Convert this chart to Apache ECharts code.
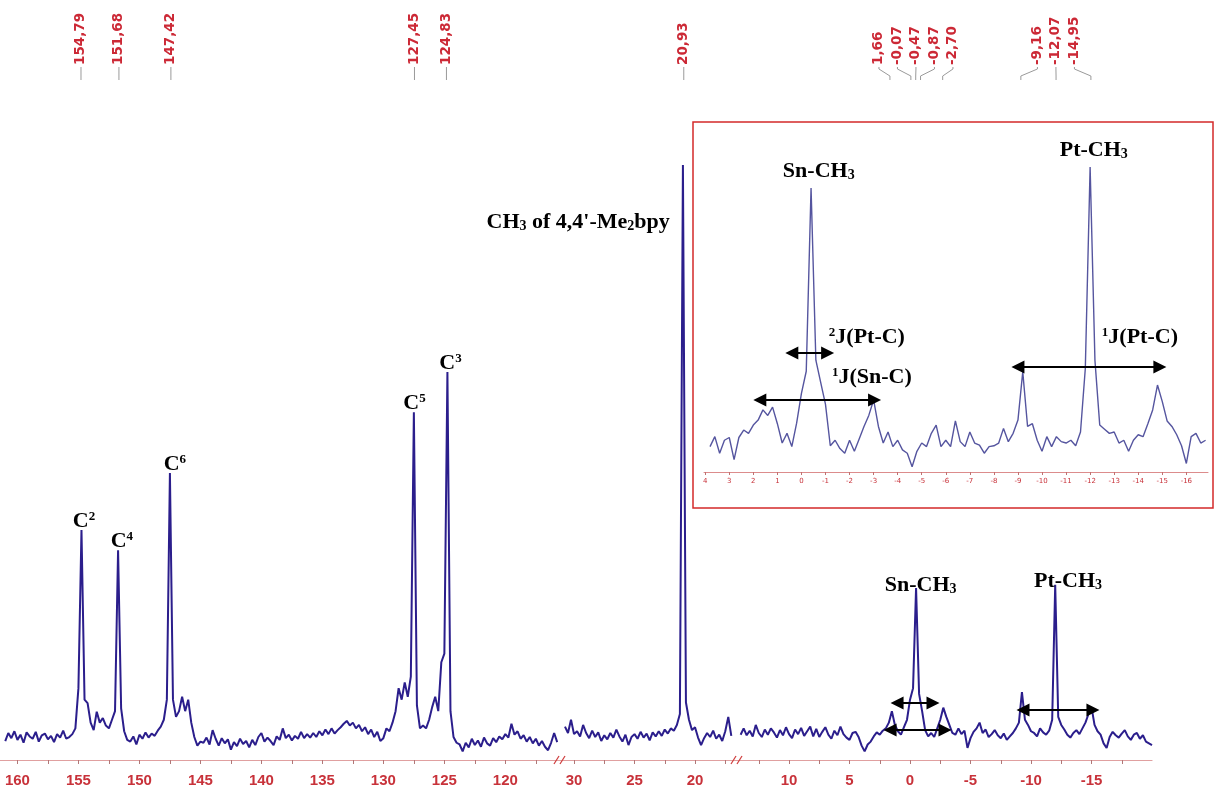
<!DOCTYPE html>
<html><head><meta charset="utf-8">
<script src="https://cdn.jsdelivr.net/npm/echarts@6/dist/echarts.min.js"></script>
<style>html,body{margin:0;padding:0;background:#fff}#c{width:1215px;height:792px}</style>
</head><body><div id="c"></div>
<script>
// ================= DATA =================
// main spectrum, sampled every 0.25 ppm (intensity, arbitrary units; CH3 of bpy = 100)
const mainStep = 0.25;
const seg1Start = 161.0;   // 161 -> 115.75 ppm
const seg1Values = [
 -0.2, 1.2, 0.3, 1.5,   0.0, 0.9, -0.5, 1.3,   0.6, 0.2, 1.4, -0.3,   0.8, 1.1, 0.1, 0.7,
 -0.4, 1.0, 0.4, 1.6,   0.2, 0.5, 1.0, 2.0,    9, 36.5, 7, 6.4,       3, 1.7, 4.9, 3,
 3.8, 2.5, 2, 3.5,      5, 33, 5.5, 1.5,       0, -0.3, 0.6, -0.8,    0.9, 0.2, 1.3, 0.4,
 1.1, 0.7, 1.6, 2.3,    3.5, 7, 46.4, 7,       4, 5, 7.5, 5,          7, 3, 0.5, -1,
 -0.3, -0.5, 0.4, -0.8, 1.7, 0.2, -1.0, 0.3,   -0.6, 0.1, -1.7, -0.4, -1.1, 0.2, -0.7, -0.2,
 -1.3, 0.0, -0.9, 0.5,  1.2, -0.3, 0.4, -0.2,  -0.9, 0.6, 0.0, 2.0,   0.3, 0.9, -0.1, 0.7,
 0.2, 1.4, 0.3, 1.0,    0.4, 1.2, 0.5, 1.5,    0.8, 1.8, 1.0, 2.0,    1.1, 1.7, 2.2, 2.8,
 3.3, 2.5, 3.0, 2.0,    2.6, 1.5, 2.2, 1.0,    1.8, 0.5, 1.4, -0.2,   0.3, 2.0, 1.5, 3.0,
 5.0, 9.0, 7.0, 10.0,   7.5, 11.0, 57.0, 6.0,  2.0, 2.5, 2.0, 3.5,    5.7, 7.5, 5.0, 13.5,
 15.0, 64.0, 5.0, 0.5,  -0.5, -0.8, -2.0, -0.5, -1.3, 0.2, -0.9, -0.1, -1.2, 0.4, -0.6, -1.0,
 0.3, -0.4, 0.6, 0.1,   1.0, 0.4, 2.8, 0.9,    1.5, 0.2, 0.8, -0.3,   0.5, -0.6, 0.2, -1.0,
 -0.2, -1.2, -1.8, -0.5, 1.2, -0.4
];
const seg2Start = 30.75;   // 30.75 -> 17.0 ppm
const seg2Values = [
 2.3, 1.2, 3.5,
 1.0, 1.5, 0.6, 2.6,   1.2, 0.3, 1.6, 0.5,   1.3, -0.2, 0.8, 0.1,   1.2, 0.4, 1.8, 0.6,
 -0.3, 0.9, -0.9, 0.5, 1.0, 0.2, 1.4, 0.4,   1.1, -0.1, 1.3, 0.6,   1.5, 0.7, 1.8, 1.1,
 2.0, 1.6, 2.6, 4.5,   100, 6.5, 3.5, 1.7,   2.2, 0.4, -0.9, 0.3,   1.2, 0.5, 1.6, 0.2,
 0.9, -0.2, 1.5, 4.0,
 0.7
];
const seg3Start = 14.0;    // 14 -> -20 ppm
const seg3Values = [
 0.9, 2.0, 0.8, 1.6,   0.6, 2.6, 1.2, 0.5,   1.8, 0.9, 2.0, 1.3,   0.4, 1.7, 0.8, 2.2,
 1.0, 0.3, 1.8, 1.0,   2.1, 0.7, 1.5, 2.3,   0.6, 1.9, 0.5, 1.4,   2.2, 0.9, 0.2, 1.6,
 0.8, 2.3, 1.0, 0.4,   0.0, 1.2, 1.4, 0.5,   -1.0, -2.0, -0.8, -0.3, 0.6, 1.3, 0.9, 1.6,
 2.0, 3.0, 5.0, 2.6,   1.5, 0.9, 2.2, 3.5,   7.0, 9.0, 26.4, 8.0,   5.0, 1.7, 0.6, 1.2,
 0.5, 2.0, 3.5, 5.6,   4.0, 2.6, 1.2, 0.9,   2.0, 1.0, 1.6, -1.4,   0.3, 1.4, 2.0, 3.0,
 1.2, 1.8, 0.5, 1.0,   1.7, 0.8, 0.3, 1.1,   0.0, 0.6, 1.2, 2.0,    3.0, 8.3, 3.5, 2.6,
 1.5, 1.2, 0.6, 2.0,   1.3, 0.9, 1.6, 3.5,   27.0, 4.0, 2.6, 1.8,   0.9, 0.4, 1.2, 1.7,
 1.0, 2.0, 3.0, 4.5,   5.7, 2.6, 1.5, 0.9,   -0.6, -1.4, 0.5, 1.4,  0.8, 0.4, 1.1, 1.7,
 0.6, 0.0, 0.9, 1.2,   0.2, 0.8, -0.3, -0.6,
 -0.9
];
// inset (expanded 4 .. -16.8 ppm), sampled every 0.2 ppm (Pt-CH3 = 100)
const insetStart = 3.8, insetStep = 0.2;
const insetValues = [
 -1.3, 2.3, -3.7, 1,
 2, -6, 2, 4.7, 3.5,        6.5, 8.3, 12, 10, 13,      7, 0, 3.5, -1.3, 7.2,
 18, 26, 92.4, 30, 22,      14, -1, 1, -2, -3.7,       1, -3, 1.5, 6, 10,
 15.6, 6, 0, 4, -1.3,       1, -2.5, -3.7, -8.6, -3,   0, -1.3, 3.5, 6.5, -1.3,
 1, -1.3, 8, 0.5, -1.3,     4, 0, -0.8, -3.7, -1.3,    -1, 0, 5.3, 0.5, 3.5,
 8.3, 25.8, 6, 7, 1,        -3, 2.3, -1.3, 2.3, 0.5,   0, 1, -1, 4, 27,
 100, 30, 6.5, 5, 3.5,      4, 0, 1, -3, 1,            3, 2.3, 7, 12, 21,
 15, 8, 6, 3, -1,           -7.4, 2.3, 3.5, 0, 1
];
// axis ticks / labels
const axis1Labels = [160, 155, 150, 145, 140, 135, 130, 125, 120];
const axis1Ticks  = [160, 157.5, 155, 152.5, 150, 147.5, 145, 142.5, 140, 137.5, 135, 132.5, 130, 127.5, 125, 122.5, 120, 117.5];
const axis2Labels = [30, 25, 20];
const axis2Ticks  = [30, 27.5, 25, 22.5, 20, 17.5];
const axis3Labels = [10, 5, 0, -5, -10, -15];
const axis3Ticks  = [12.5, 10, 7.5, 5, 2.5, 0, -2.5, -5, -7.5, -10, -12.5, -15, -17.5];
const insetLabels = [4, 3, 2, 1, 0, -1, -2, -3, -4, -5, -6, -7, -8, -9, -10, -11, -12, -13, -14, -15, -16];
// picked peaks (ppm)
const peaksAromatic = [154.79, 151.68, 147.42, 127.45, 124.83];
const peaksBpyMe    = [20.93];
const peaksSn       = [1.66, -0.07, -0.47, -0.87, -2.70];
const peaksPt       = [-9.16, -12.07, -14.95];

// ================= HELPERS =================
const toXY = (start, step, vals) => vals.map((v, i) => [+(start - i * step).toFixed(4), v]);
const heightAt = (start, step, vals, ppm) => vals[Math.round((start - ppm) / step)];
const LINE = '#2b1e8c', INSET_LINE = '#55559f', RED = '#c8323a';
const SERIF = '"Liberation Serif","Times New Roman",serif';
const RICH = {
  c: {fontFamily: SERIF, fontWeight: 'bold', fontSize: 22, color: '#000'},
  s: {fontFamily: SERIF, fontWeight: 'bold', fontSize: 13, color: '#000', verticalAlign: 'top'},
  d: {fontFamily: SERIF, fontWeight: 'bold', fontSize: 14, color: '#000', verticalAlign: 'bottom'}
};
function lab(coord, fmt, pos, dist, off) {
  return {coord, label: {show: true, position: pos, distance: dist, offset: off || [0, 0], formatter: fmt, rich: RICH}};
}
function mp(data) { return {symbol: 'circle', symbolSize: 0, silent: true, animation: false, data}; }
function arrows(pairs, size) {
  return {silent: true, animation: false, symbol: ['triangle', 'triangle'], symbolSize: size,
    lineStyle: {color: '#000', width: 2.2, type: 'solid'}, label: {show: false},
    data: pairs.map(p => [{coord: [p[0], p[2]]}, {coord: [p[1], p[2]]}])};
}
function mainX(gi, min, max, ticks, labels) {
  return {type: 'value', gridIndex: gi, inverse: true, min, max,
    axisLine: {show: true, onZero: false, lineStyle: {color: '#e0a0a0', width: 1.2}},
    axisTick: {show: true, customValues: ticks, length: 4, lineStyle: {color: '#b07878', width: 1}},
    axisLabel: {customValues: labels, color: RED, fontFamily: '"Liberation Sans",Arial,sans-serif', fontWeight: 'bold', fontSize: 15, margin: 13, formatter: v => String(v)},
    splitLine: {show: false}};
}
const yHidden = (gi, min, max) => ({type: 'value', gridIndex: gi, min, max, show: false, splitLine: {show: false}});

// ================= CHART =================
const chart = echarts.init(document.getElementById('c'), null, {renderer: 'canvas'});
const option = {
  animation: false,
  backgroundColor: '#fff',
  grid: [
    {left: 0, top: 165, width: 560, height: 595},
    {left: 560, top: 165, width: 177, height: 595},
    {left: 737, top: 165, width: 415, height: 595},
    {left: 704, top: 167, width: 504, height: 305}
  ],
  xAxis: [
    mainX(0, 115.52, 161.43, axis1Ticks, axis1Labels),
    mainX(1, 16.53, 31.16, axis2Ticks, axis2Labels),
    mainX(2, -20.0, 14.3, axis3Ticks, axis3Labels),
    {type: 'value', gridIndex: 3, inverse: true, min: -16.9, max: 4.05,
      axisLine: {show: true, onZero: false, lineStyle: {color: '#dc8c8c', width: 1}},
      axisTick: {show: true, customValues: insetLabels, length: 3, lineStyle: {color: '#c07070'}},
      axisLabel: {customValues: insetLabels, color: RED, fontSize: 7, fontFamily: '"DejaVu Sans",sans-serif', margin: 6, formatter: v => String(v)},
      splitLine: {show: false}}
  ],
  yAxis: [yHidden(0, -3.5, 100), yHidden(1, -3.5, 100), yHidden(2, -3.5, 100), yHidden(3, -10.5, 100)],
  series: [
    {type: 'line', xAxisIndex: 0, yAxisIndex: 0, showSymbol: false, data: toXY(seg1Start, mainStep, seg1Values),
      lineStyle: {color: LINE, width: 2}, itemStyle: {color: LINE},
      markPoint: mp([
        lab([peaksAromatic[0], heightAt(seg1Start, mainStep, seg1Values, peaksAromatic[0])], '{c|C}{s|2}', 'top', -2, [3, 0]),
        lab([peaksAromatic[1], heightAt(seg1Start, mainStep, seg1Values, peaksAromatic[1])], '{c|C}{s|4}', 'top', -2, [3, 0]),
        lab([peaksAromatic[2], heightAt(seg1Start, mainStep, seg1Values, peaksAromatic[2])], '{c|C}{s|6}', 'top', -2, [4, 0]),
        lab([peaksAromatic[3], heightAt(seg1Start, mainStep, seg1Values, peaksAromatic[3])], '{c|C}{s|5}', 'top', -2, [0, 0]),
        lab([peaksAromatic[4], heightAt(seg1Start, mainStep, seg1Values, peaksAromatic[4])], '{c|C}{s|3}', 'top', -2, [4, 0])
      ])},
    {type: 'line', xAxisIndex: 1, yAxisIndex: 1, showSymbol: false, data: toXY(seg2Start, mainStep, seg2Values),
      lineStyle: {color: LINE, width: 2}, itemStyle: {color: LINE},
      markPoint: mp([
        lab([peaksBpyMe[0], 90], "{c|CH}{d|3}{c| of 4,4'-Me}{d|2}{c|bpy}", 'left', 14)
      ])},
    {type: 'line', xAxisIndex: 2, yAxisIndex: 2, showSymbol: false, data: toXY(seg3Start, mainStep, seg3Values),
      lineStyle: {color: LINE, width: 2}, itemStyle: {color: LINE},
      markPoint: mp([
        lab([peaksSn[2], heightAt(seg3Start, mainStep, seg3Values, peaksSn[2])], '{c|Sn-CH}{d|3}', 'top', -8, [5, 0]),
        lab([peaksPt[1], heightAt(seg3Start, mainStep, seg3Values, peaksPt[1])], '{c|Pt-CH}{d|3}', 'top', -8, [12, 0])
      ]),
      markLine: arrows([[1.07, -1.9, 6.4], [1.65, -2.89, 1.7], [-9.34, -15.12, 5.2]], 13)},
    {type: 'line', xAxisIndex: 3, yAxisIndex: 3, showSymbol: false, data: toXY(insetStart, insetStep, insetValues),
      lineStyle: {color: INSET_LINE, width: 1.4}, itemStyle: {color: INSET_LINE},
      markPoint: mp([
        lab([peaksSn[2], heightAt(insetStart, insetStep, insetValues, peaksSn[2])], '{c|Sn-CH}{d|3}', 'top', 6, [6, 0]),
        lab([peaksPt[1], heightAt(insetStart, insetStep, insetValues, peaksPt[1])], '{c|Pt-CH}{d|3}', 'top', 6, [2, 0]),
        lab([-2.72, 38.4], '{s|2}{c|J(Pt-C)}', 'inside', 0),
        lab([-2.93, 23.9], '{s|1}{c|J(Sn-C)}', 'inside', 0),
        lab([-14.07, 38.4], '{s|1}{c|J(Pt-C)}', 'inside', 0)
      ]),
      markLine: arrows([[0.4, -1.09, 32.6], [1.73, -3.04, 15.6], [-9.0, -14.9, 27.5]], 13)}
  ]
};
chart.setOption(option);

// ---- decorations: inset frame, axis-break marks, peak-pick labels ----
const els = [];
els.push({type: 'rect', z: -5, shape: {x: 693, y: 122, width: 520, height: 386},
  style: {fill: '#fff', stroke: '#d42a2a', lineWidth: 1.5}});
[560, 737].forEach(bx => {
  [-4, 2].forEach(dx => els.push({type: 'line', z: 5, shape: {x1: bx + dx - 2, y1: 764, x2: bx + dx + 3, y2: 756},
    style: {stroke: '#d04040', lineWidth: 1.3}}));
});
const LABEL_GAP = 18.5;
function peakLabels(axisIdx, list, spread) {
  const xs = list.map(v => chart.convertToPixel({xAxisIndex: axisIdx}, v));
  let lxs = xs.slice();
  if (spread) {
    const mean = xs.reduce((a, b) => a + b, 0) / xs.length;
    lxs = xs.map((_, i) => mean + (i - (xs.length - 1) / 2) * LABEL_GAP);
  }
  list.forEach((v, i) => {
    els.push({type: 'text', x: lxs[i], y: 65, rotation: Math.PI / 2,
      style: {text: v.toFixed(2).replace('.', ','), fill: '#cc2936', font: 'bold 13.5px "DejaVu Sans", sans-serif',
        textAlign: 'left', textVerticalAlign: 'middle'}});
    els.push({type: 'polyline', shape: {points: [[lxs[i], 67], [lxs[i], 69], [xs[i], 76], [xs[i], 80]]},
      style: {stroke: '#9a9a9a', lineWidth: 1, fill: null}});
  });
}
peakLabels(0, peaksAromatic, false);
peakLabels(1, peaksBpyMe, false);
peakLabels(2, peaksSn, true);
peakLabels(2, peaksPt, true);
chart.setOption({graphic: {elements: els}});
</script>
</body></html>
